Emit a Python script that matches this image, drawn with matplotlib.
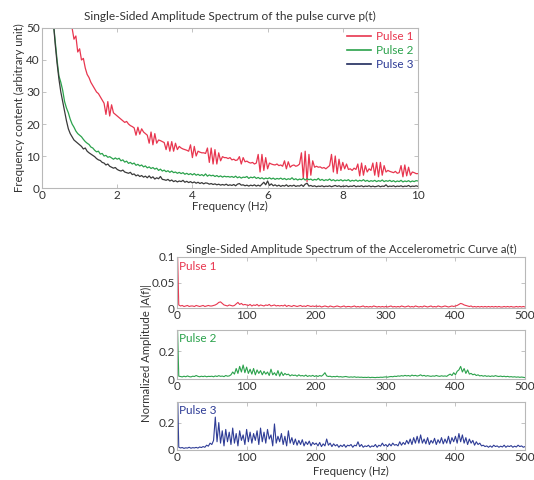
import numpy as np
import matplotlib
matplotlib.use('Agg')
import matplotlib.pyplot as plt
from matplotlib.lines import Line2D

plt.rcParams['font.family'] = ['Lato', 'DejaVu Sans']

# ---- top chart: pulse curve spectrum, values every 0.05 Hz from 0.2 to 10 Hz
pulse1_p = [95, 91, 87, 83, 79, 75, 71, 67, 63, 59, 56, 53, 50, 46.5, 47.5, 42.5,
            43.5, 40, 40.5, 37.5, 35.5, 34.5, 33, 32, 31, 30, 29.5, 28.5, 27.5, 26.5, 23, 27, 22.5, 26, 23.5, 23,
            22.5, 22, 21.5, 21, 20.5, 20.8, 20, 19.5, 19.2, 18.8, 16.5, 19, 16.8, 18.5, 17.5, 17, 16.5, 14, 17.5, 13.5,
            17, 14, 15, 14.8, 14.5, 14.2, 12, 14.5, 11.5, 14.5, 11.5, 14, 12, 13, 12.5, 12.2, 12, 11.8, 11.5, 13.5,
            9.5, 13, 10, 11.5, 11.2, 11, 11, 10.8, 12.5, 8, 12.5, 7.5, 12, 7.5, 11, 8.5, 9.8, 9.5, 9.5, 9.2,
            9.5, 8.8, 9, 8.6, 8.8, 9.8, 7.5, 9.5, 8.2, 8.4, 8, 7.8, 8, 7.5, 7.8, 10.5, 5, 10.5, 5.5, 9.5,
            6, 7.8, 7.5, 7.3, 7.2, 7.5, 7, 7.2, 6.8, 8.5, 6, 8.2, 6.5, 7, 7.2, 6.8, 7, 7.5, 11, 3,
            11.5, 2, 10.5, 4, 8.5, 6.5, 6.8, 6.5, 6.6, 6.2, 6.4, 6, 6.5, 7, 10.5, 5, 10, 4.5, 9, 5.5,
            8, 6, 7.5, 5.8, 6, 5.5, 6.2, 5.8, 7.5, 3.8, 7.8, 4, 7, 5, 6, 5.5, 7.8, 4, 8, 3.5,
            8, 4, 7, 5, 5.5, 5.2, 5, 4.8, 5.2, 4.6, 4.8, 7, 3.5, 7.2, 3.8, 6.5, 4, 5, 4.8, 4.5,
            4.5]
pulse2_p = [80, 62, 52, 46, 40, 35, 33, 30.5, 27, 25, 23.5, 21.5, 20, 19, 17.8, 17,
            16.5, 16, 15.2, 14.5, 14, 13.6, 12.8, 12.5, 11.8, 11.3, 11.5, 10.6, 10.8, 10, 10.2, 9.6, 9.8, 9.4, 9, 9.4,
            9, 9.3, 8.5, 8.8, 8.1, 8.4, 7.7, 8, 7.5, 7.8, 7.1, 7.4, 6.9, 7.2, 6.6, 6.9, 6.3, 6.6, 6.1, 6.4,
            5.9, 6.2, 5.5, 5.9, 5.3, 5.6, 5.1, 5.4, 4.9, 5.3, 4.8, 5, 4.6, 4.9, 4.5, 4.8, 4.3, 4.6, 4.2, 4.5,
            4.1, 4.5, 4, 4.3, 3.9, 4.2, 3.8, 4.4, 3.7, 4.1, 3.8, 4, 3.6, 3.9, 3.5, 3.8, 3.4, 3.7, 3.5, 3.6,
            3.4, 3.6, 3.3, 3.7, 3.2, 3.5, 3.1, 3.4, 3.3, 3.6, 3, 3.4, 3.2, 3.5, 3, 3.3, 2.9, 3.2, 2.8, 3.1,
            2.9, 3.2, 2.8, 3.1, 2.7, 3, 2.8, 3.1, 2.7, 3, 2.6, 2.9, 2.7, 3.2, 2.6, 2.9, 2.5, 2.8, 2.6, 3,
            2.5, 2.9, 2.6, 2.8, 2.4, 2.7, 2.5, 3, 2.4, 2.7, 2.3, 2.6, 2.4, 2.8, 2.3, 2.6, 2.2, 2.5, 2.3, 2.6,
            2.2, 2.5, 2.3, 2.6, 2.1, 2.4, 2.2, 2.5, 2.1, 2.4, 2.2, 2.6, 2.1, 2.4, 2, 2.3, 2.1, 2.4, 2, 2.3,
            2.1, 2.5, 2, 2.3, 2.1, 2.4, 2, 2.3, 1.9, 2.2, 2, 2.4, 1.9, 2.2, 2, 2.3, 1.9, 2.2, 2, 2.3,
            2.2]
pulse3_p = [80, 62, 52, 45, 39, 34, 30, 27, 24, 21, 18.5, 17, 16, 15, 14.5, 14,
            13.5, 13, 12.2, 12.5, 11.5, 11, 10.6, 10.2, 9.8, 9.2, 8.8, 8.6, 8, 7.8, 7.2, 7.5, 6.8, 6.5, 6.2, 6.4,
            5.8, 5.5, 5.3, 5.6, 5, 4.8, 4.6, 4.9, 4.2, 4.4, 3.8, 4.1, 3.6, 3.9, 3.4, 3.7, 3.2, 3.8, 3.1, 3.5,
            2.8, 3.2, 2.9, 3.6, 2.7, 2.6, 2.4, 2.7, 2.2, 2.5, 2, 2.3, 1.9, 2.2, 2, 2.4, 1.8, 2.1, 1.7, 2,
            1.6, 1.9, 1.5, 1.8, 1.4, 1.7, 1.3, 1.6, 1.5, 1.2, 1.4, 1.1, 1.3, 1.0, 1.2, 0.9, 1.1, 0.9, 1.2, 0.8,
            1.0, 0.8, 1.1, 0.7, 1.2, 1.4, 0.9, 1.0, 0.7, 0.9, 0.6, 0.9, 0.7, 1.0, 0.6, 0.9, 0.6, 1.2, 1.8, 1.0,
            2.2, 0.8, 1.3, 0.7, 1.0, 0.6, 0.9, 0.5, 0.8, 0.6, 1.0, 0.5, 0.8, 0.6, 0.9, 0.5, 0.7, 0.6, 1.0, 0.5,
            1.2, 1.5, 0.6, 0.8, 0.5, 0.7, 0.4, 0.6, 0.5, 0.7, 0.4, 0.6, 0.5, 0.7, 0.4, 0.6, 0.8, 0.5, 0.7, 0.4,
            0.6, 0.5, 0.7, 0.4, 0.6, 0.5, 0.8, 0.4, 0.6, 0.5, 0.7, 0.4, 0.6, 0.5, 0.7, 0.4, 0.6, 0.4, 0.5, 0.7,
            0.4, 0.6, 0.5, 1.0, 0.4, 0.6, 0.5, 0.7, 0.4, 0.6, 0.5, 0.7, 0.4, 0.6, 0.5, 0.8, 0.4, 0.6, 0.5, 0.7,
            0.5]

# ---- bottom chart: accelerometric curve spectrum, values every 2.5 Hz from 0 to 500 Hz
pulse1_a = [0.15, 0.006, 0.004, 0.005, 0.003, 0.004, 0.005, 0.003, 0.004, 0.004, 0.003, 0.005, 0.004, 0.003, 0.004, 0.005, 0.003, 0.004, 0.005, 0.004,
            0.004, 0.005, 0.006, 0.008, 0.011, 0.012, 0.009, 0.006, 0.005, 0.004, 0.006, 0.005, 0.004, 0.005, 0.008, 0.011, 0.007, 0.009, 0.006, 0.007,
            0.006, 0.005, 0.007, 0.004, 0.006, 0.005, 0.007, 0.004, 0.006, 0.005, 0.004, 0.006, 0.005, 0.007, 0.004, 0.005, 0.006, 0.004, 0.005, 0.004,
            0.005, 0.004, 0.006, 0.003, 0.005, 0.004, 0.003, 0.005, 0.004, 0.003, 0.004, 0.005, 0.003, 0.004, 0.003, 0.005, 0.004, 0.003, 0.004, 0.003,
            0.004, 0.003, 0.004, 0.002, 0.003, 0.004, 0.003, 0.002, 0.004, 0.003, 0.002, 0.003, 0.004, 0.003, 0.002, 0.003, 0.004, 0.002, 0.003, 0.003,
            0.002, 0.003, 0.004, 0.002, 0.003, 0.002, 0.003, 0.004, 0.002, 0.003, 0.002, 0.003, 0.002, 0.004, 0.003, 0.002, 0.003, 0.002, 0.003, 0.002,
            0.003, 0.002, 0.003, 0.004, 0.002, 0.003, 0.002, 0.003, 0.002, 0.004, 0.003, 0.002, 0.003, 0.004, 0.002, 0.003, 0.002, 0.004, 0.003, 0.002,
            0.003, 0.002, 0.004, 0.003, 0.002, 0.003, 0.004, 0.002, 0.003, 0.002, 0.004, 0.003, 0.002, 0.003, 0.004, 0.003, 0.002, 0.003, 0.004, 0.003,
            0.004, 0.005, 0.007, 0.009, 0.008, 0.006, 0.005, 0.004, 0.003, 0.004, 0.002, 0.003, 0.002, 0.003, 0.002, 0.003, 0.002, 0.003, 0.002, 0.003,
            0.002, 0.003, 0.002, 0.003, 0.002, 0.003, 0.002, 0.002, 0.003, 0.002, 0.003, 0.002, 0.003, 0.002, 0.002, 0.003, 0.002, 0.003, 0.002, 0.003,
            0.002]
pulse2_a = [0.5, 0.02, 0.018, 0.015, 0.02, 0.016, 0.022, 0.017, 0.015, 0.02, 0.018, 0.025, 0.019, 0.016, 0.02, 0.017, 0.021, 0.016, 0.019, 0.018,
            0.02, 0.016, 0.022, 0.018, 0.024, 0.019, 0.021, 0.017, 0.025, 0.02, 0.022, 0.03, 0.05, 0.035, 0.075, 0.04, 0.09, 0.05, 0.1, 0.045,
            0.085, 0.04, 0.07, 0.035, 0.075, 0.03, 0.065, 0.04, 0.06, 0.03, 0.055, 0.035, 0.05, 0.025, 0.07, 0.03, 0.045, 0.025, 0.06, 0.02,
            0.05, 0.025, 0.04, 0.03, 0.035, 0.022, 0.03, 0.025, 0.028, 0.02, 0.03, 0.022, 0.025, 0.02, 0.028, 0.018, 0.024, 0.02, 0.026, 0.018,
            0.024, 0.018, 0.025, 0.02, 0.03, 0.045, 0.022, 0.018, 0.02, 0.015, 0.018, 0.016, 0.02, 0.015, 0.017, 0.014, 0.016, 0.018, 0.015, 0.013,
            0.015, 0.013, 0.016, 0.012, 0.014, 0.012, 0.013, 0.011, 0.012, 0.011, 0.013, 0.01, 0.012, 0.011, 0.01, 0.012, 0.011, 0.013, 0.012, 0.014,
            0.015, 0.013, 0.016, 0.018, 0.016, 0.02, 0.018, 0.022, 0.02, 0.024, 0.021, 0.026, 0.022, 0.025, 0.02, 0.028, 0.023, 0.026, 0.021, 0.024,
            0.03, 0.022, 0.026, 0.02, 0.024, 0.021, 0.019, 0.022, 0.02, 0.025, 0.021, 0.019, 0.023, 0.02, 0.022, 0.019, 0.028, 0.035, 0.025, 0.045,
            0.03, 0.055, 0.065, 0.09, 0.05, 0.075, 0.04, 0.065, 0.035, 0.04, 0.03, 0.035, 0.025, 0.03, 0.022, 0.025, 0.02, 0.024, 0.019, 0.022,
            0.018, 0.022, 0.019, 0.024, 0.02, 0.018, 0.021, 0.017, 0.02, 0.016, 0.019, 0.015, 0.017, 0.014, 0.016, 0.013, 0.015, 0.012, 0.014, 0.012,
            0.01]
pulse3_a = [0.6, 0.02, 0.015, 0.018, 0.012, 0.016, 0.014, 0.02, 0.013, 0.017, 0.015, 0.019, 0.014, 0.022, 0.018, 0.025, 0.02, 0.035, 0.028, 0.05,
            0.04, 0.07, 0.24, 0.06, 0.2, 0.05, 0.14, 0.03, 0.15, 0.06, 0.13, 0.04, 0.16, 0.05, 0.12, 0.03, 0.14, 0.07, 0.11, 0.04,
            0.15, 0.06, 0.13, 0.05, 0.12, 0.07, 0.14, 0.04, 0.16, 0.06, 0.13, 0.05, 0.15, 0.08, 0.11, 0.03, 0.19, 0.05, 0.1, 0.06,
            0.12, 0.04, 0.1, 0.03, 0.14, 0.05, 0.09, 0.04, 0.08, 0.035, 0.07, 0.04, 0.075, 0.03, 0.06, 0.04, 0.065, 0.03, 0.055, 0.04,
            0.05, 0.03, 0.055, 0.025, 0.045, 0.03, 0.08, 0.035, 0.05, 0.025, 0.045, 0.03, 0.04, 0.02, 0.035, 0.025, 0.04, 0.02, 0.035, 0.03,
            0.04, 0.02, 0.035, 0.03, 0.06, 0.025, 0.04, 0.02, 0.03, 0.025, 0.035, 0.02, 0.03, 0.025, 0.04, 0.02, 0.035, 0.028, 0.05, 0.03,
            0.04, 0.025, 0.045, 0.03, 0.05, 0.035, 0.04, 0.03, 0.06, 0.035, 0.055, 0.04, 0.07, 0.045, 0.08, 0.04, 0.09, 0.05, 0.1, 0.05,
            0.11, 0.05, 0.08, 0.045, 0.09, 0.04, 0.07, 0.05, 0.085, 0.04, 0.075, 0.05, 0.09, 0.045, 0.08, 0.05, 0.1, 0.045, 0.09, 0.06,
            0.1, 0.05, 0.12, 0.06, 0.11, 0.05, 0.09, 0.04, 0.08, 0.05, 0.07, 0.035, 0.06, 0.04, 0.05, 0.03, 0.035, 0.025, 0.03, 0.02,
            0.03, 0.02, 0.035, 0.025, 0.03, 0.02, 0.028, 0.022, 0.035, 0.02, 0.03, 0.025, 0.032, 0.02, 0.028, 0.022, 0.035, 0.025, 0.03, 0.02,
            0.025]

labels = ['Pulse 1', 'Pulse 2', 'Pulse 3']
red, green, blue, dark = '#e8364f', '#2ba24c', '#2e3c96', '#3a3a3a'
spine_c = '#b8b8b8'
text_c = '#333333'

f_top = np.linspace(0.2, 10.0, len(pulse1_p))
f_acc = np.linspace(0.0, 500.0, len(pulse1_a))


def style(ax, fs=8):
    for s in ax.spines.values():
        s.set_color(spine_c)
        s.set_linewidth(0.8)
    ax.tick_params(direction='in', top=True, right=True, length=3, width=0.6,
                   color=spine_c, labelcolor=text_c, labelsize=fs, pad=1.5)


fig = plt.figure(figsize=(5.34, 4.8), dpi=100)

# top chart
ax = fig.add_axes([0.0787, 0.6083, 0.704, 0.3334])
ax.plot(f_top, pulse1_p, color=red, lw=0.9)
ax.plot(f_top, pulse2_p, color=green, lw=0.9)
ax.plot(f_top, pulse3_p, color=dark, lw=0.9)
ax.set_xlim(0, 10)
ax.set_ylim(0, 50)
ax.set_xticks([0, 2, 4, 6, 8, 10])
ax.set_yticks([0, 10, 20, 30, 40, 50])
style(ax, 8.5)
ax.set_title('Single-Sided Amplitude Spectrum of the pulse curve p(t)', fontsize=8.6, color=text_c, pad=6)
ax.set_xlabel('Frequency (Hz)', fontsize=8.2, color=text_c, labelpad=0)
ax.set_ylabel('Frequency content (arbitrary unit)', fontsize=8.2, color=text_c, labelpad=1)
handles = [Line2D([], [], color=red, lw=1.2), Line2D([], [], color=green, lw=1.2),
           Line2D([], [], color='#1f2a5c', lw=1.2)]
leg = ax.legend(handles, labels, loc='upper right', bbox_to_anchor=(1.0, 1.01), frameon=False,
                fontsize=8.5, handlelength=2.0, handletextpad=0.4, labelspacing=0.25, borderaxespad=0)
for t, c in zip(leg.get_texts(), [red, green, blue]):
    t.set_color(c)

# bottom chart: three stacked panels
rects = [[0.3315, 0.3583, 0.6517, 0.1063],
         [0.3315, 0.2104, 0.6517, 0.1021],
         [0.3315, 0.0625, 0.6517, 0.1000]]
series = [pulse1_a, pulse2_a, pulse3_a]
colors = [red, green, blue]
axs = []
for i in range(3):
    a = fig.add_axes(rects[i])
    a.plot(f_acc, series[i], color=colors[i], lw=0.8)
    a.set_xlim(0, 500)
    a.set_xticks([0, 100, 200, 300, 400, 500])
    if i == 0:
        a.set_ylim(0, 0.1)
        a.set_yticks([0, 0.05, 0.1])
        a.set_yticklabels(['0', '0.05', '0.1'])
    else:
        a.set_ylim(0, 0.35)
        a.set_yticks([0, 0.2])
        a.set_yticklabels(['0', '0.2'])
    style(a, 8.5)
    a.text(0.006, 0.93, labels[i], transform=a.transAxes, color=colors[i],
           fontsize=8.5, va='top', ha='left')
    axs.append(a)

axs[0].set_title('Single-Sided Amplitude Spectrum of the Accelerometric Curve a(t)',
                 fontsize=8.2, color=text_c, pad=3)
axs[2].set_xlabel('Frequency (Hz)', fontsize=8.2, color=text_c, labelpad=2)
fig.text(0.275, 0.264, 'Normalized Amplitude |A(f)|', rotation=90, fontsize=8.2,
         color=text_c, ha='center', va='center')

fig.savefig('out.png', dpi=100)
